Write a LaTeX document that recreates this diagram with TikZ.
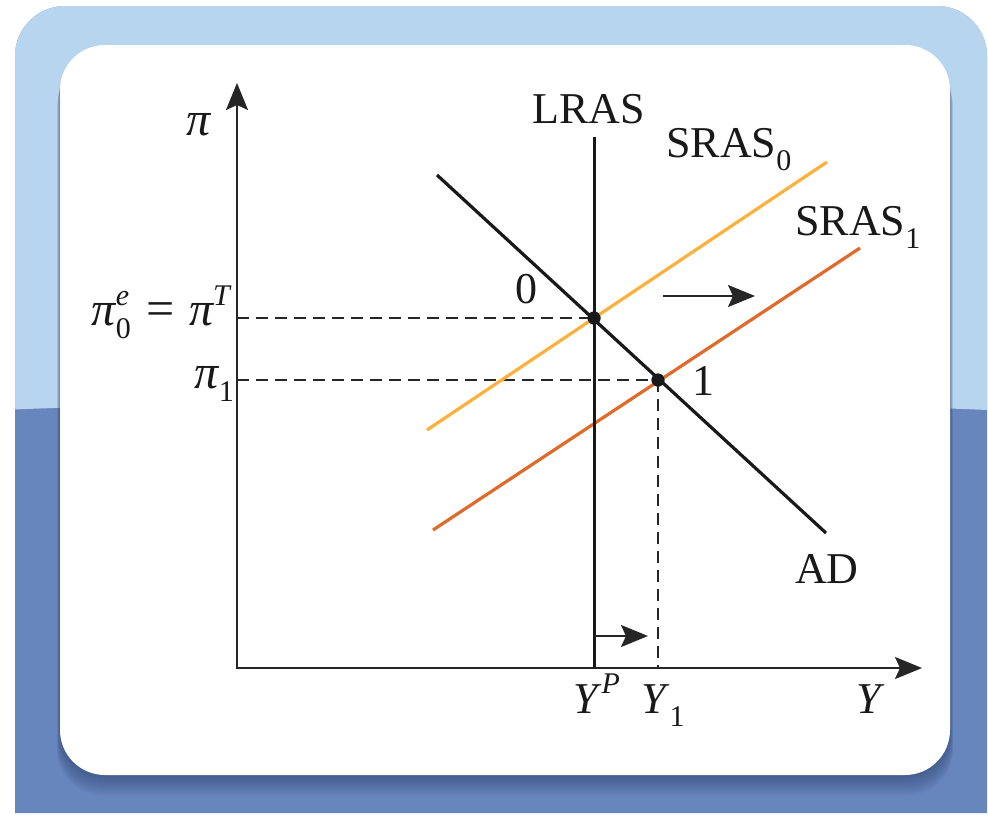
\documentclass[tikz,border=0pt]{standalone}
\usepackage{fontspec}
\setmainfont{Liberation Serif}
\usetikzlibrary{arrows.meta}
\definecolor{lightbl}{HTML}{B8D5EF}
\definecolor{darkbl}{HTML}{6886BE}
\definecolor{shadowbl}{HTML}{2E4470}
\definecolor{srasA}{HTML}{FBB13C}
\definecolor{srasB}{HTML}{DF6A2A}
\newcommand\lblfont{\fontsize{44}{48}\selectfont}
\newcommand\sbx[1]{\raisebox{-0.3em}{\fontsize{30}{32}\selectfont #1}}
\newcommand\spx[1]{\raisebox{0.45em}{\fontsize{30}{32}\selectfont\itshape #1}}
\newcommand\bigpi{{\fontsize{48}{50}\selectfont\itshape π}}
\tikzset{
  lab/.style={inner sep=0pt, font=\lblfont, text=black!90},
  axisline/.style={line width=2pt, black!85},
  curve/.style={line width=3.2pt},
  dashline/.style={line width=1.8pt, black!85, dash pattern=on 12pt off 7pt},
  dotnode/.style={circle, fill=black!90, inner sep=0pt, minimum size=13pt},
  myhead/.tip={Stealth[length=27pt,width=22pt,inset=5pt]},
}
\begin{document}
\begin{tikzpicture}[x=1pt,y=-1pt]
\useasboundingbox (0,0) rectangle (988,815);
% background frame
\begin{scope}
  \clip (15,6) [rounded corners=50pt] rectangle (987,813) [sharp corners] (15,300) rectangle (987,813);
  \fill[darkbl] (0,0) rectangle (988,815);
  \fill[lightbl] (0,0) -- (988,0) -- (988,410) .. controls (700,398) and (300,398) .. (0,410) -- cycle;
  \foreach \i in {1,...,10}
    \fill[shadowbl, opacity=0.07, rounded corners=45pt] (60-\i*0.3, 45+\i*1.8) rectangle (950+\i*0.3, 775+\i*2);
\end{scope}
\fill[white, rounded corners=45pt] (60,45) rectangle (950,775);

% coordinates
\coordinate (O) at (237,668);
\coordinate (ytop) at (237,83);
\coordinate (xend) at (922,668);
\coordinate (lrasT) at (594,137);
\coordinate (lrasB) at (594,668);
\coordinate (adA) at (437,175);
\coordinate (adB) at (826,533);
\coordinate (s0A) at (427,430);
\coordinate (s0B) at (827,162);
\coordinate (s1A) at (433,530);
\coordinate (s1B) at (860,248);
\coordinate (ypi0) at (237,318);
\coordinate (ypi1) at (237,380);
\coordinate (xY1) at (658,668);
\coordinate (shA) at (663,296);
\coordinate (shB) at (755,296);
\coordinate (sbA) at (594,636);
\coordinate (sbB) at (648,636);

% dashed guides
\node[dotnode] (p0) at (594,318) {};
\node[dotnode] (p1) at (658,380) {};
\draw[dashline] (ypi0) -- (p0.center);
\draw[dashline] (ypi1) -- (p1.center);
\draw[dashline] (p1.center) -- (xY1);

% axes
\draw[axisline, myhead-myhead] (ytop) -- (O) -- (xend);

% curves
\draw[curve, srasA] (s0A) -- (s0B);
\draw[curve, srasB] (s1A) -- (s1B);
\draw[curve, black!90] (adA) -- (adB);
\draw[line width=3pt, black!90] (lrasT) -- (lrasB);
\node[dotnode] at (p0) {};
\node[dotnode] at (p1) {};

% shift arrows
\draw[line width=2pt, black!85, -myhead] (shA) -- (shB);
\draw[line width=2pt, black!85, -myhead] (sbA) -- (sbB);

% labels
\node[lab, anchor=base west] (lpi) at (186,135) {\bigpi};
\node[lab, anchor=base east] (lpi0) at (230,325) {\bigpi\rlap{\spx{e}}\sbx{0}\hspace{16pt}{\fontsize{50}{50}\selectfont =}\hspace{14pt}\bigpi\spx{T}};
\node[lab, anchor=base east] (lpi1) at (234,388) {\bigpi\sbx{1}};
\node[lab, anchor=base west] (llras) at (532,123) {LRAS};
\node[lab, anchor=base west] (ls0) at (666,157) {SRAS\sbx{0}};
\node[lab, anchor=base west] (ls1) at (795,235) {SRAS\sbx{1}};
\node[lab, anchor=base west] (lad) at (795,583) {AD};
\node[lab, anchor=base west] (l0) at (515,303) {0};
\node[lab, anchor=base west] (l1) at (692,395) {1};
\node[lab, anchor=base west] (lyp) at (573,713) {\textit{Y}\spx{P}};
\node[lab, anchor=base west] (ly1) at (641,713) {\textit{Y}\sbx{1}};
\node[lab, anchor=base west] (ly) at (856,713) {\textit{Y}};
\end{tikzpicture}
\end{document}
